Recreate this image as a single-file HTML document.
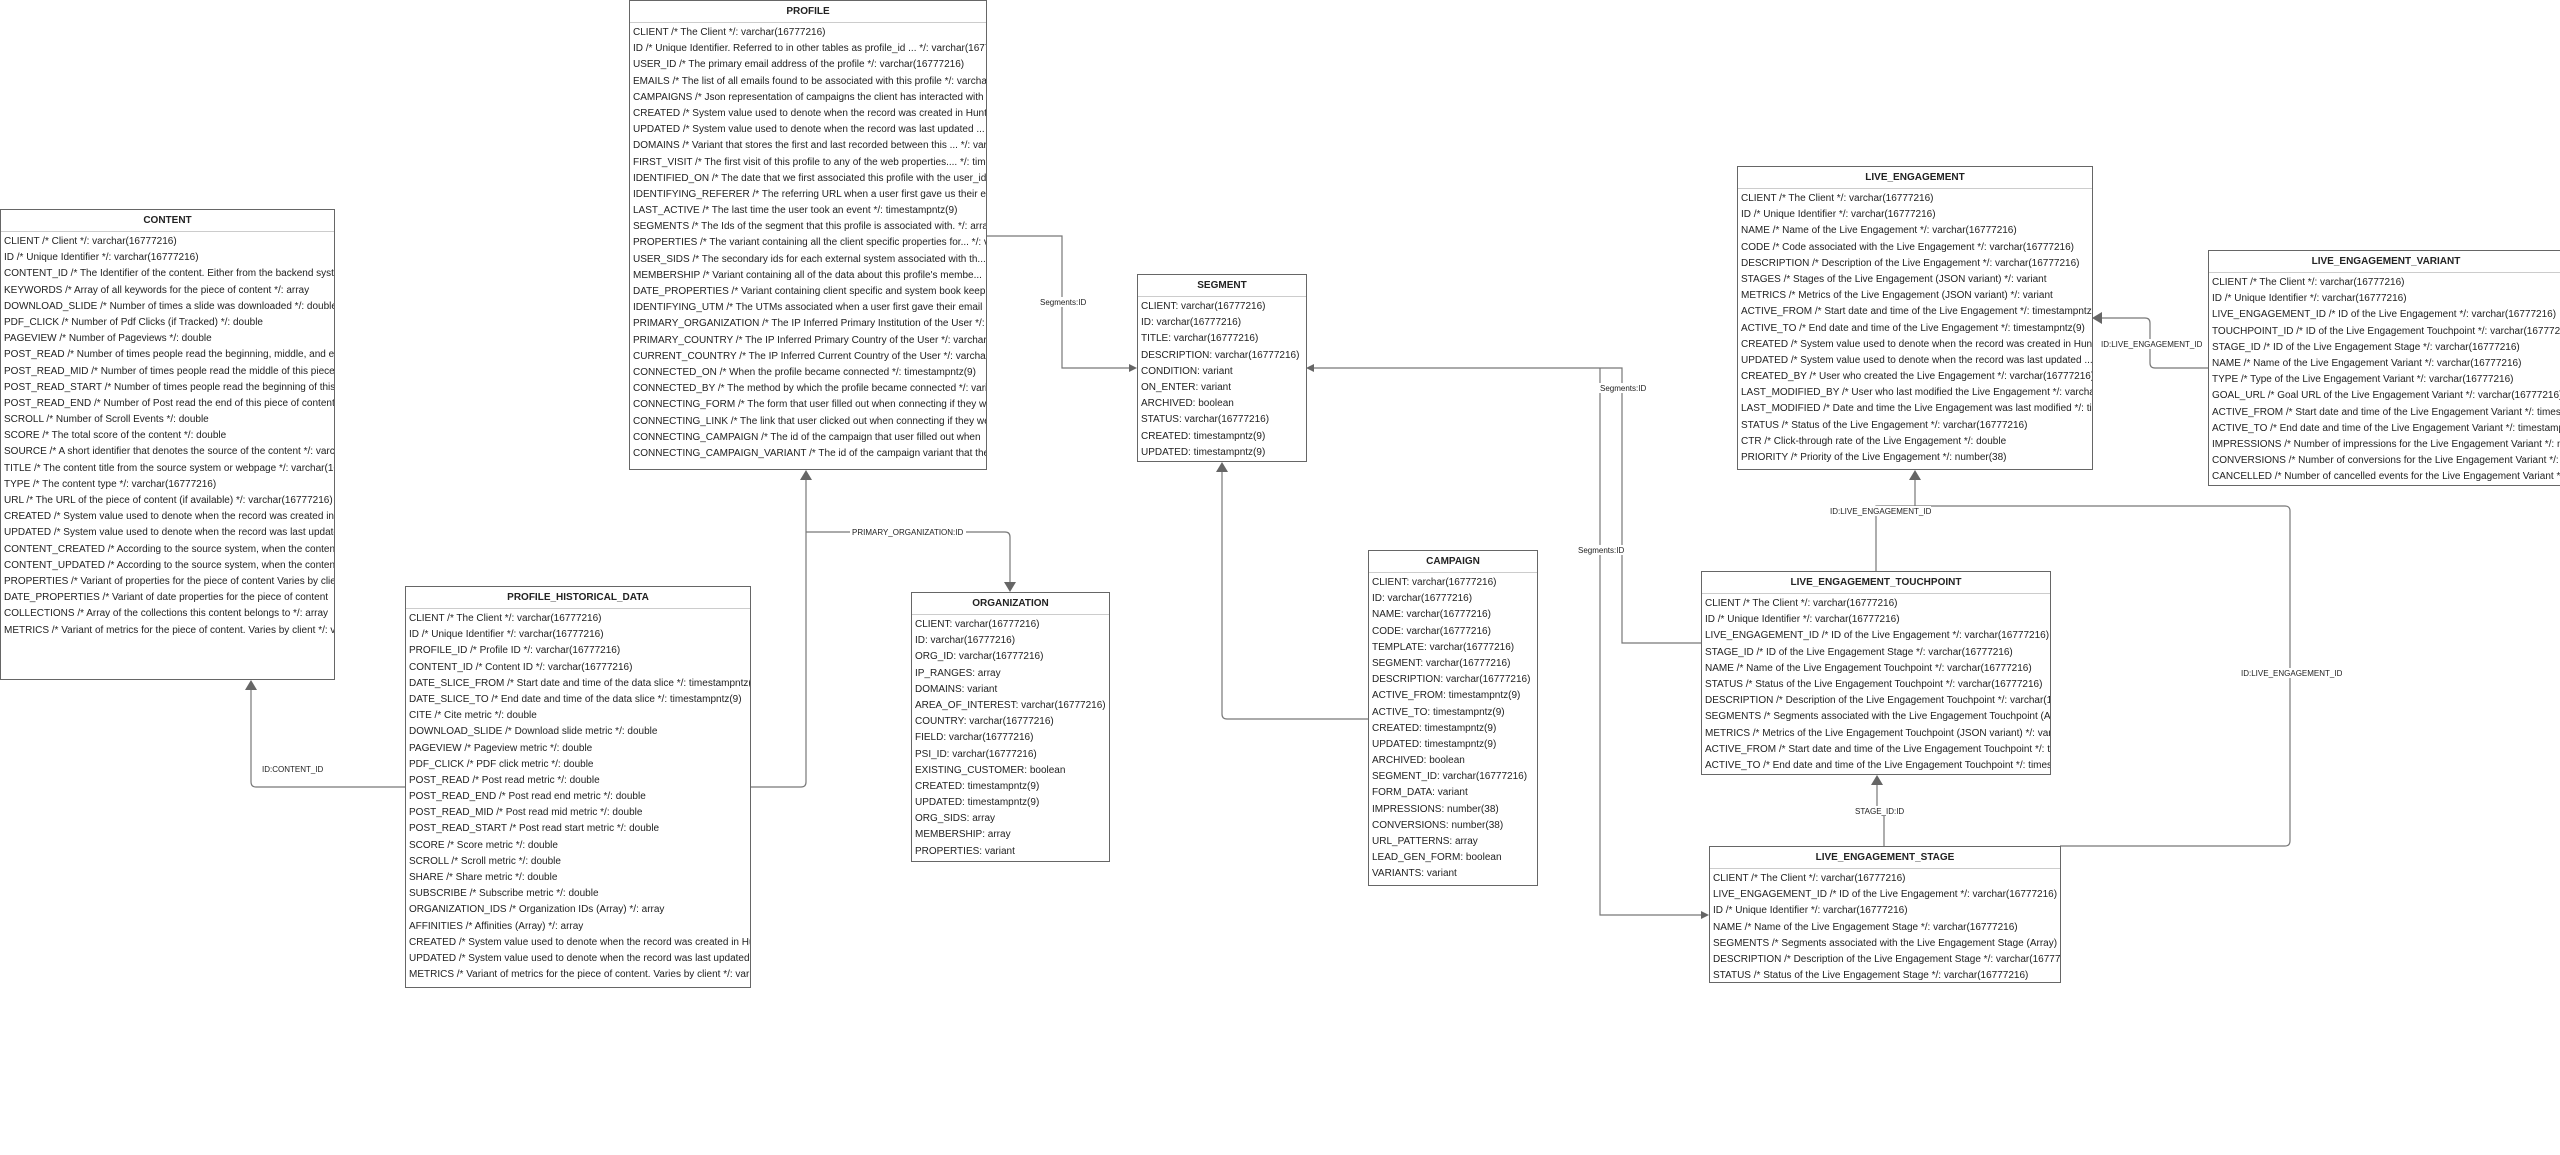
<!DOCTYPE html>
<html><head><meta charset="utf-8">
<style>
html,body{margin:0;padding:0;background:#fff;}
body{width:2560px;height:1155px;position:relative;overflow:hidden;font-family:"Liberation Sans",Arial,sans-serif;}
.b{position:absolute;box-sizing:border-box;border:1px solid #666;background:#fff;overflow:hidden;color:#222;}
.h{height:21px;line-height:21px;text-align:center;font-weight:bold;font-size:10px;border-bottom:1px solid #ccc;white-space:nowrap;}
.r{padding-top:2px;padding-left:3px;font-size:10px;}
.r div{height:16.2px;line-height:16.2px;white-space:nowrap;}
svg{position:absolute;left:0;top:0;}
.l{font-size:8px;fill:#222;font-family:"Liberation Sans",Arial,sans-serif;}
</style></head><body>
<svg width="2560" height="1155">
<g fill="none" stroke="#777" stroke-width="1.2">
<path d="M986 236 H1062 V368 H1131"/>
<path d="M405 787 H256 Q251 787 251 782 V688"/>
<path d="M750 787 H801 Q806 787 806 782 V478"/>
<path d="M806 532 H1005 Q1010 532 1010 537 V584"/>
<path d="M1368 719 H1227 Q1222 719 1222 714 V470"/>
<path d="M1312 368 H1622 V643 H1701"/>
<path d="M1600 368 V915 H1703"/>
<path d="M2208 368 H2155 Q2150 368 2150 363 V323 Q2150 318 2145 318 H2100"/>
<path d="M1876 571 V506 H1915 V478"/>
<path d="M2060 846 H2285 Q2290 846 2290 841 V511 Q2290 506 2285 506 H1915"/>
<path d="M1884 846 V812 H1877 V783"/>
</g>
<g fill="#666">
<path d="M1137 368 l-8 -4 v8 z"/>
<path d="M251 680 l-6 10 h12 z"/>
<path d="M806 470 l-6 10 h12 z"/>
<path d="M1010 592 l-6 -10 h12 z"/>
<path d="M1222 462 l-6 10 h12 z"/>
<path d="M1306 368 l8 -4 v8 z"/>
<path d="M1709 915 l-8 -4 v8 z"/>
<path d="M2092 318 l10 -6 v12 z"/>
<path d="M1915 470 l-6 10 h12 z"/>
<path d="M1877 775 l-6 10 h12 z"/>
</g>
<g class="l">
<rect x="1038" y="297" width="48" height="10" fill="#fff"/><text x="1040" y="305">Segments:ID</text>
<rect x="260" y="764" width="66" height="10" fill="#fff"/><text x="262" y="772">ID:CONTENT_ID</text>
<rect x="850" y="527" width="116" height="10" fill="#fff"/><text x="852" y="535">PRIMARY_ORGANIZATION:ID</text>
<rect x="1598" y="383" width="48" height="10" fill="#fff"/><text x="1600" y="391">Segments:ID</text>
<rect x="1576" y="545" width="48" height="10" fill="#fff"/><text x="1578" y="553">Segments:ID</text>
<rect x="2100" y="339" width="102" height="10" fill="#fff"/><text x="2101" y="347">ID:LIVE_ENGAGEMENT_ID</text>
<rect x="1829" y="506" width="102" height="10" fill="#fff"/><text x="1830" y="514">ID:LIVE_ENGAGEMENT_ID</text>
<rect x="2240" y="668" width="102" height="10" fill="#fff"/><text x="2241" y="676">ID:LIVE_ENGAGEMENT_ID</text>
<rect x="1854" y="806" width="52" height="10" fill="#fff"/><text x="1855" y="814">STAGE_ID:ID</text>
</g>
</svg>

<div class="b" style="left:629px;top:0;width:358px;height:470px"><div class="h">PROFILE</div><div class="r">
<div>CLIENT /* The Client */: varchar(16777216)</div>
<div>ID /* Unique Identifier. Referred to in other tables as profile_id ... */: varchar(16777216)</div>
<div>USER_ID /* The primary email address of the profile */: varchar(16777216)</div>
<div>EMAILS /* The list of all emails found to be associated with this profile */: varchar</div>
<div>CAMPAIGNS /* Json representation of campaigns the client has interacted with */</div>
<div>CREATED /* System value used to denote when the record was created in Hunter</div>
<div>UPDATED /* System value used to denote when the record was last updated ...</div>
<div>DOMAINS /* Variant that stores the first and last recorded between this ... */: variant</div>
<div>FIRST_VISIT /* The first visit of this profile to any of the web properties.... */: timestamp</div>
<div>IDENTIFIED_ON /* The date that we first associated this profile with the user_id</div>
<div>IDENTIFYING_REFERER /* The referring URL when a user first gave us their email</div>
<div>LAST_ACTIVE /* The last time the user took an event */: timestampntz(9)</div>
<div>SEGMENTS /* The Ids of the segment that this profile is associated with. */: array</div>
<div>PROPERTIES /* The variant containing all the client specific properties for... */: variant</div>
<div>USER_SIDS /* The secondary ids for each external system associated with th...</div>
<div>MEMBERSHIP /* Variant containing all of the data about this profile's membe...</div>
<div>DATE_PROPERTIES /* Variant containing client specific and system book keeping</div>
<div>IDENTIFYING_UTM /* The UTMs associated when a user first gave their email</div>
<div>PRIMARY_ORGANIZATION /* The IP Inferred Primary Institution of the User */: var</div>
<div>PRIMARY_COUNTRY /* The IP Inferred Primary Country of the User */: varchar</div>
<div>CURRENT_COUNTRY /* The IP Inferred Current Country of the User */: varchar</div>
<div>CONNECTED_ON /* When the profile became connected */: timestampntz(9)</div>
<div>CONNECTED_BY /* The method by which the profile became connected */: variant</div>
<div>CONNECTING_FORM /* The form that user filled out when connecting if they were</div>
<div>CONNECTING_LINK /* The link that user clicked out when connecting if they were</div>
<div>CONNECTING_CAMPAIGN /* The id of the campaign that user filled out when</div>
<div>CONNECTING_CAMPAIGN_VARIANT /* The id of the campaign variant that the</div>
</div></div>

<div class="b" style="left:0;top:209px;width:335px;height:471px"><div class="h">CONTENT</div><div class="r">
<div>CLIENT /* Client */: varchar(16777216)</div>
<div>ID /* Unique Identifier */: varchar(16777216)</div>
<div>CONTENT_ID /* The Identifier of the content. Either from the backend system</div>
<div>KEYWORDS /* Array of all keywords for the piece of content */: array</div>
<div>DOWNLOAD_SLIDE /* Number of times a slide was downloaded */: double</div>
<div>PDF_CLICK /* Number of Pdf Clicks (if Tracked) */: double</div>
<div>PAGEVIEW /* Number of Pageviews */: double</div>
<div>POST_READ /* Number of times people read the beginning, middle, and end</div>
<div>POST_READ_MID /* Number of times people read the middle of this piece</div>
<div>POST_READ_START /* Number of times people read the beginning of this</div>
<div>POST_READ_END /* Number of Post read the end of this piece of content</div>
<div>SCROLL /* Number of Scroll Events */: double</div>
<div>SCORE /* The total score of the content */: double</div>
<div>SOURCE /* A short identifier that denotes the source of the content */: varchar</div>
<div>TITLE /* The content title from the source system or webpage */: varchar(16777216)</div>
<div>TYPE /* The content type */: varchar(16777216)</div>
<div>URL /* The URL of the piece of content (if available) */: varchar(16777216)</div>
<div>CREATED /* System value used to denote when the record was created in</div>
<div>UPDATED /* System value used to denote when the record was last updated</div>
<div>CONTENT_CREATED /* According to the source system, when the content</div>
<div>CONTENT_UPDATED /* According to the source system, when the content</div>
<div>PROPERTIES /* Variant of properties for the piece of content Varies by client</div>
<div>DATE_PROPERTIES /* Variant of date properties for the piece of content</div>
<div>COLLECTIONS /* Array of the collections this content belongs to */: array</div>
<div>METRICS /* Variant of metrics for the piece of content. Varies by client */: variant</div>
</div></div>

<div class="b" style="left:405px;top:586px;width:346px;height:402px"><div class="h">PROFILE_HISTORICAL_DATA</div><div class="r">
<div>CLIENT /* The Client */: varchar(16777216)</div>
<div>ID /* Unique Identifier */: varchar(16777216)</div>
<div>PROFILE_ID /* Profile ID */: varchar(16777216)</div>
<div>CONTENT_ID /* Content ID */: varchar(16777216)</div>
<div>DATE_SLICE_FROM /* Start date and time of the data slice */: timestampntz(9)</div>
<div>DATE_SLICE_TO /* End date and time of the data slice */: timestampntz(9)</div>
<div>CITE /* Cite metric */: double</div>
<div>DOWNLOAD_SLIDE /* Download slide metric */: double</div>
<div>PAGEVIEW /* Pageview metric */: double</div>
<div>PDF_CLICK /* PDF click metric */: double</div>
<div>POST_READ /* Post read metric */: double</div>
<div>POST_READ_END /* Post read end metric */: double</div>
<div>POST_READ_MID /* Post read mid metric */: double</div>
<div>POST_READ_START /* Post read start metric */: double</div>
<div>SCORE /* Score metric */: double</div>
<div>SCROLL /* Scroll metric */: double</div>
<div>SHARE /* Share metric */: double</div>
<div>SUBSCRIBE /* Subscribe metric */: double</div>
<div>ORGANIZATION_IDS /* Organization IDs (Array) */: array</div>
<div>AFFINITIES /* Affinities (Array) */: array</div>
<div>CREATED /* System value used to denote when the record was created in Hunter</div>
<div>UPDATED /* System value used to denote when the record was last updated</div>
<div>METRICS /* Variant of metrics for the piece of content. Varies by client */: variant</div>
</div></div>

<div class="b" style="left:1137px;top:274px;width:170px;height:188px"><div class="h">SEGMENT</div><div class="r">
<div>CLIENT: varchar(16777216)</div><div>ID: varchar(16777216)</div><div>TITLE: varchar(16777216)</div><div>DESCRIPTION: varchar(16777216)</div><div>CONDITION: variant</div><div>ON_ENTER: variant</div><div>ARCHIVED: boolean</div><div>STATUS: varchar(16777216)</div><div>CREATED: timestampntz(9)</div><div>UPDATED: timestampntz(9)</div>
</div></div>

<div class="b" style="left:911px;top:592px;width:199px;height:270px"><div class="h">ORGANIZATION</div><div class="r">
<div>CLIENT: varchar(16777216)</div><div>ID: varchar(16777216)</div><div>ORG_ID: varchar(16777216)</div><div>IP_RANGES: array</div><div>DOMAINS: variant</div><div>AREA_OF_INTEREST: varchar(16777216)</div><div>COUNTRY: varchar(16777216)</div><div>FIELD: varchar(16777216)</div><div>PSI_ID: varchar(16777216)</div><div>EXISTING_CUSTOMER: boolean</div><div>CREATED: timestampntz(9)</div><div>UPDATED: timestampntz(9)</div><div>ORG_SIDS: array</div><div>MEMBERSHIP: array</div><div>PROPERTIES: variant</div>
</div></div>

<div class="b" style="left:1368px;top:550px;width:170px;height:336px"><div class="h">CAMPAIGN</div><div class="r">
<div>CLIENT: varchar(16777216)</div><div>ID: varchar(16777216)</div><div>NAME: varchar(16777216)</div><div>CODE: varchar(16777216)</div><div>TEMPLATE: varchar(16777216)</div><div>SEGMENT: varchar(16777216)</div><div>DESCRIPTION: varchar(16777216)</div><div>ACTIVE_FROM: timestampntz(9)</div><div>ACTIVE_TO: timestampntz(9)</div><div>CREATED: timestampntz(9)</div><div>UPDATED: timestampntz(9)</div><div>ARCHIVED: boolean</div><div>SEGMENT_ID: varchar(16777216)</div><div>FORM_DATA: variant</div><div>IMPRESSIONS: number(38)</div><div>CONVERSIONS: number(38)</div><div>URL_PATTERNS: array</div><div>LEAD_GEN_FORM: boolean</div><div>VARIANTS: variant</div>
</div></div>

<div class="b" style="left:1737px;top:166px;width:356px;height:304px"><div class="h">LIVE_ENGAGEMENT</div><div class="r">
<div>CLIENT /* The Client */: varchar(16777216)</div>
<div>ID /* Unique Identifier */: varchar(16777216)</div>
<div>NAME /* Name of the Live Engagement */: varchar(16777216)</div>
<div>CODE /* Code associated with the Live Engagement */: varchar(16777216)</div>
<div>DESCRIPTION /* Description of the Live Engagement */: varchar(16777216)</div>
<div>STAGES /* Stages of the Live Engagement (JSON variant) */: variant</div>
<div>METRICS /* Metrics of the Live Engagement (JSON variant) */: variant</div>
<div>ACTIVE_FROM /* Start date and time of the Live Engagement */: timestampntz(9)</div>
<div>ACTIVE_TO /* End date and time of the Live Engagement */: timestampntz(9)</div>
<div>CREATED /* System value used to denote when the record was created in Hunter</div>
<div>UPDATED /* System value used to denote when the record was last updated ...</div>
<div>CREATED_BY /* User who created the Live Engagement */: varchar(16777216)</div>
<div>LAST_MODIFIED_BY /* User who last modified the Live Engagement */: varchar</div>
<div>LAST_MODIFIED /* Date and time the Live Engagement was last modified */: time</div>
<div>STATUS /* Status of the Live Engagement */: varchar(16777216)</div>
<div>CTR /* Click-through rate of the Live Engagement */: double</div>
<div>PRIORITY /* Priority of the Live Engagement */: number(38)</div>
</div></div>

<div class="b" style="left:2208px;top:250px;width:370px;height:236px"><div class="h" style="width:354px">LIVE_ENGAGEMENT_VARIANT</div><div class="r">
<div>CLIENT /* The Client */: varchar(16777216)</div>
<div>ID /* Unique Identifier */: varchar(16777216)</div>
<div>LIVE_ENGAGEMENT_ID /* ID of the Live Engagement */: varchar(16777216)</div>
<div>TOUCHPOINT_ID /* ID of the Live Engagement Touchpoint */: varchar(16777216)</div>
<div>STAGE_ID /* ID of the Live Engagement Stage */: varchar(16777216)</div>
<div>NAME /* Name of the Live Engagement Variant */: varchar(16777216)</div>
<div>TYPE /* Type of the Live Engagement Variant */: varchar(16777216)</div>
<div>GOAL_URL /* Goal URL of the Live Engagement Variant */: varchar(16777216)</div>
<div>ACTIVE_FROM /* Start date and time of the Live Engagement Variant */: timestampntz</div>
<div>ACTIVE_TO /* End date and time of the Live Engagement Variant */: timestampntz</div>
<div>IMPRESSIONS /* Number of impressions for the Live Engagement Variant */: number</div>
<div>CONVERSIONS /* Number of conversions for the Live Engagement Variant */: number</div>
<div>CANCELLED /* Number of cancelled events for the Live Engagement Variant */</div>
</div></div>

<div class="b" style="left:1701px;top:571px;width:350px;height:204px"><div class="h">LIVE_ENGAGEMENT_TOUCHPOINT</div><div class="r">
<div>CLIENT /* The Client */: varchar(16777216)</div>
<div>ID /* Unique Identifier */: varchar(16777216)</div>
<div>LIVE_ENGAGEMENT_ID /* ID of the Live Engagement */: varchar(16777216)</div>
<div>STAGE_ID /* ID of the Live Engagement Stage */: varchar(16777216)</div>
<div>NAME /* Name of the Live Engagement Touchpoint */: varchar(16777216)</div>
<div>STATUS /* Status of the Live Engagement Touchpoint */: varchar(16777216)</div>
<div>DESCRIPTION /* Description of the Live Engagement Touchpoint */: varchar(16777216)</div>
<div>SEGMENTS /* Segments associated with the Live Engagement Touchpoint (Array)</div>
<div>METRICS /* Metrics of the Live Engagement Touchpoint (JSON variant) */: variant</div>
<div>ACTIVE_FROM /* Start date and time of the Live Engagement Touchpoint */: time</div>
<div>ACTIVE_TO /* End date and time of the Live Engagement Touchpoint */: timestamp</div>
</div></div>

<div class="b" style="left:1709px;top:846px;width:352px;height:137px"><div class="h">LIVE_ENGAGEMENT_STAGE</div><div class="r">
<div>CLIENT /* The Client */: varchar(16777216)</div>
<div>LIVE_ENGAGEMENT_ID /* ID of the Live Engagement */: varchar(16777216)</div>
<div>ID /* Unique Identifier */: varchar(16777216)</div>
<div>NAME /* Name of the Live Engagement Stage */: varchar(16777216)</div>
<div>SEGMENTS /* Segments associated with the Live Engagement Stage (Array) */</div>
<div>DESCRIPTION /* Description of the Live Engagement Stage */: varchar(16777216)</div>
<div>STATUS /* Status of the Live Engagement Stage */: varchar(16777216)</div>
</div></div>
</body></html>
